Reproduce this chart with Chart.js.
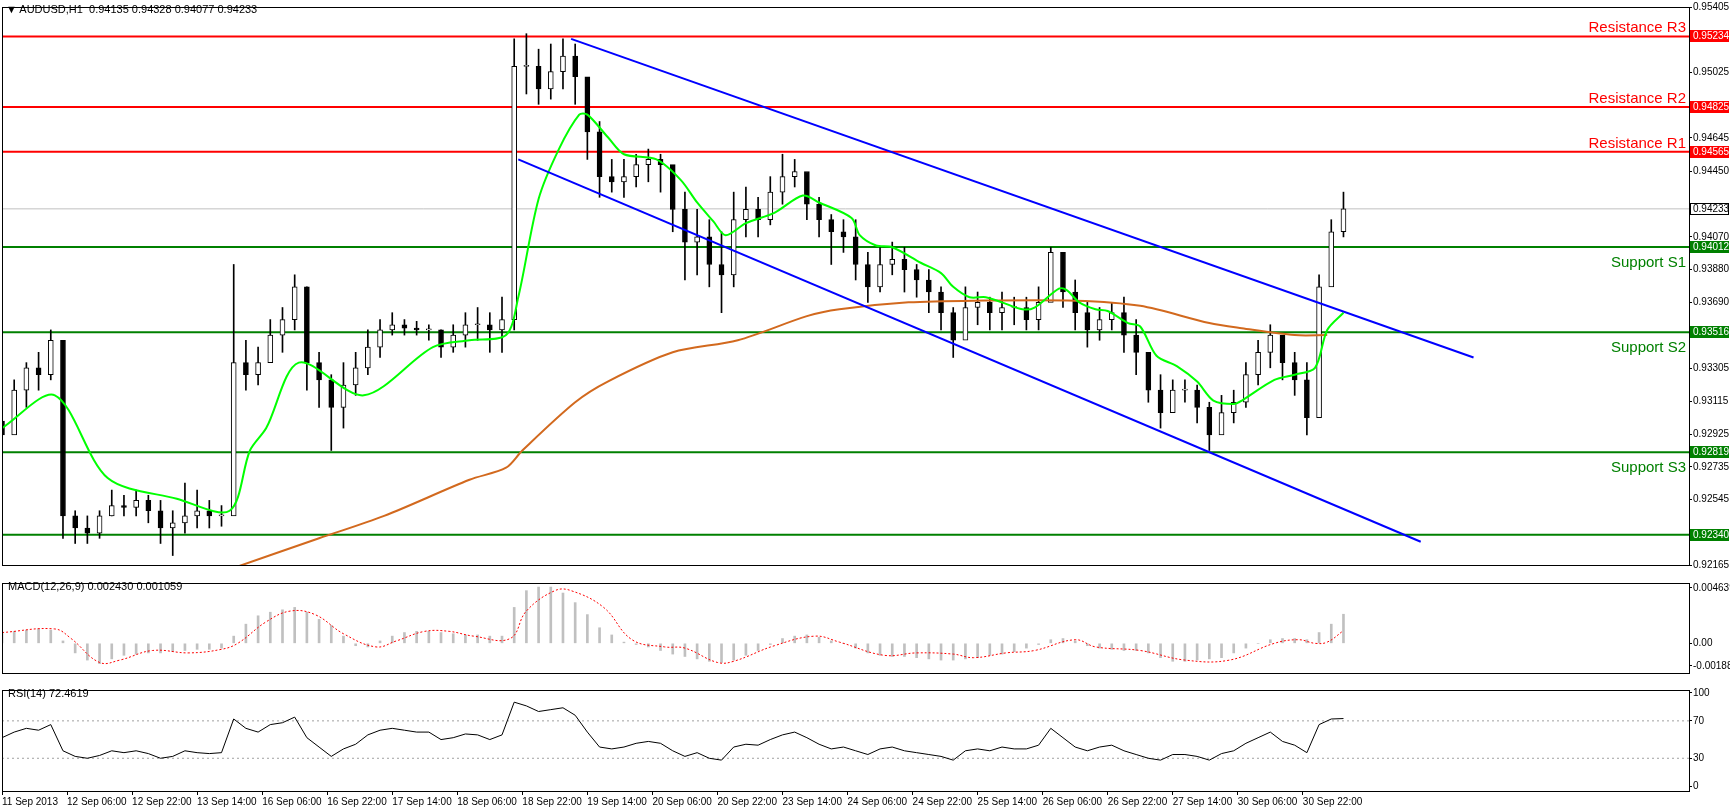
<!DOCTYPE html>
<html>
<head>
<meta charset="utf-8">
<script src="https://cdn.jsdelivr.net/npm/chart.js@4.4.1/dist/chart.umd.min.js"></script>
<style>
  body { margin:0; background:#fff; width:1730px; height:809px; overflow:hidden; font-family:'Liberation Sans', Arial, sans-serif; }
  .pane { position:absolute; left:0; width:1730px; background:#fff; }
  .pane canvas { position:absolute; left:0; top:0; }
  .ttl { position:absolute; left:8px; font-size:11px; color:#000; white-space:nowrap; }
</style>
</head>
<body>
<div class="pane" id="p1" style="top:0;height:573px"><canvas id="main" width="1730" height="573"></canvas>
  <div class="ttl" style="top:3px;left:6px">&#9660; AUDUSD,H1&nbsp; 0.94135 0.94328 0.94077 0.94233</div></div>
<div class="pane" id="p2" style="top:576px;height:104px"><canvas id="macd" width="1730" height="104"></canvas>
  <div class="ttl" style="top:4px">MACD(12,26,9) 0.002430 0.001059</div></div>
<div class="pane" id="p3" style="top:683px;height:126px"><canvas id="rsi" width="1730" height="126"></canvas>
  <div class="ttl" style="top:4px">RSI(14) 72.4619</div></div>
<script>
// hourly chart, one candle per 3 hours, x = hours since 11 Sep 2013 14:00
const xLabels = ['11 Sep 2013','12 Sep 06:00','12 Sep 22:00','13 Sep 14:00','16 Sep 06:00','16 Sep 22:00','17 Sep 14:00',
  '18 Sep 06:00','18 Sep 22:00','19 Sep 14:00','20 Sep 06:00','20 Sep 22:00','23 Sep 14:00','24 Sep 06:00','24 Sep 22:00',
  '25 Sep 14:00','26 Sep 06:00','26 Sep 22:00','27 Sep 14:00','30 Sep 06:00','30 Sep 22:00']

const hi = [.9308,.9324,.9334,.9340,.9353,.9321,.9248,.9245,.9248,.9260,.9257,.9260,.9257,.9254,.9248,.9264,.9260,.9254,.9251,.9391,
  .9347,.9343,.9359,.9366,.9385,.9378,.9340,.9327,.9334,.9340,.9353,.9359,.9363,.9359,.9358,.9356,.9353,.9356,.9363,.9366,
  .9363,.9372,.9522,.9525,.9516,.9519,.9522,.9519,.9497,.9474,.9452,.9452,.9455,.9458,.9455,.9445,.9433,.9423,.9417,.9410,
  .9433,.9436,.9430,.9442,.9455,.9452,.9442,.9430,.9420,.9417,.9417,.9398,.9401,.9404,.9401,.9391,.9388,.9378,.9366,.9378,
  .9375,.9372,.9375,.9372,.9372,.9378,.9401,.9398,.9382,.9369,.9366,.9369,.9372,.9359,.9337,.9327,.9324,.9324,.9321,.9311,
  .9315,.9318,.9334,.9347,.9356,.9343,.9340,.9334,.9385,.9417,.9433]
const lo = [.9276,.9296,.9308,.9318,.9324,.9232,.9229,.9229,.9232,.9245,.9245,.9245,.9241,.9229,.9222,.9235,.9238,.9238,.9239,.9292,
  .9318,.9321,.9334,.9340,.9353,.9318,.9308,.9283,.9296,.9315,.9327,.9337,.9350,.9350,.9350,.9347,.9337,.9340,.9343,.9347,
  .9340,.9340,.9353,.9490,.9484,.9487,.9493,.9484,.9452,.9430,.9433,.9430,.9436,.9439,.9433,.9410,.9382,.9385,.9378,.9363,
  .9378,.9407,.9407,.9414,.9426,.9436,.9417,.9407,.9391,.9398,.9382,.9369,.9375,.9385,.9375,.9372,.9363,.9353,.9337,.9353,
  .9356,.9353,.9353,.9356,.9353,.9353,.9372,.9366,.9353,.9343,.9347,.9353,.9340,.9327,.9311,.9296,.9305,.9311,.9299,.9283,
  .9296,.9299,.9308,.9321,.9331,.9324,.9315,.9292,.9302,.9385,.9407]
const cl = [.9292,.9318,.9331,.9327,.9347,.9245,.9238,.9235,.9245,.9251,.9250,.9254,.9248,.9238,.9241,.9245,.9248,.9245,.9245,.9334,
  .9327,.9334,.9350,.9359,.9378,.9334,.9324,.9308,.9321,.9331,.9343,.9353,.9356,.9354,.9353,.9353,.9343,.9350,.9356,.9356,
  .9353,.9359,.9506,.9506,.9493,.9503,.9512,.9500,.9468,.9442,.9439,.9442,.9449,.9452,.9449,.9423,.9404,.9407,.9391,.9385,
  .9417,.9423,.9417,.9433,.9442,.9445,.9426,.9417,.9410,.9407,.9391,.9378,.9391,.9394,.9388,.9382,.9375,.9363,.9347,.9366,
  .9369,.9363,.9366,.9366,.9359,.9369,.9398,.9375,.9363,.9353,.9359,.9363,.9350,.9340,.9318,.9305,.9318,.9318,.9308,.9292,
  .9305,.9311,.9327,.9340,.9350,.9334,.9324,.9302,.9378,.9410,.94233]

// moving averages: [hour, price]
const maFast = [[0,.9296],[13,.9315],[26,.9267],[43,.9255],[56,.9248],[61,.9283],[65,.9296],[73,.9334],[89,.9315],[106,.9343],
  [115,.9347],[124,.9350],[127,.9372],[132,.9429],[137,.9458],[142,.9478],[144,.9478],[149,.9465],[153,.9455],[161,.9452],
  [167,.9440],[171,.9427],[175,.9416],[178,.9408],[183,.9415],[190,.9421],[197,.9431],[201,.9427],[209,.9418],[211,.9408],
  [215,.9402],[219,.9401],[226,.9392],[231,.9386],[234,.9378],[238,.9372],[242,.9372],[246,.9369],[251,.9365],[254,.9366],
  [260,.9377],[262,.9376],[265,.9369],[269,.9365],[272,.9364],[277,.9357],[280,.9355],[284,.9338],[289,.9332],[294,.9323],
  [298,.9312],[303,.9310],[305,.9312],[313,.9324],[318,.9327],[323,.9331],[326,.9353],[330,.9363]]
const maSlow = [[56,.9214],[78,.9232],[94,.9245],[115,.9266],[124,.9273],[128,.9283],[141,.9311],[149,.9323],[165,.9340],
  [181,.9347],[198,.9361],[206,.9365],[223,.9369],[239,.9370],[264,.9370],[280,.9367],[297,.9357],[305,.9354],[318,.9350],[326,.9350]]

const channelTop = [[140,.9522],[362,.9337]]
const channelBottom = [[127,.9452],[349,.9230]]

const resistLevels = [.95234,.94825,.94565]
const resistNames = ['Resistance R3','Resistance R2','Resistance R1']
const supportLevels = [.94012,.93516,.92819,.92340]
const supportNames = ['Support S1','Support S2','Support S3','']
const lastPrice = .94233
const priceTicks = [.95405,.95025,.94645,.94450,.94070,.93880,.93690,.93305,.93115,.92925,.92735,.92545,.92165]

const macdHist = [.0009,.0010,.0011,.0012,.0011,.0002,-.0008,-.0014,-.0017,-.0013,-.0010,-.0009,-.0008,-.0008,-.0007,-.0006,-.0005,-.0005,-.0004,.0006,
  .0016,.0023,.0026,.0028,.0030,.0026,.0020,.0015,.0006,-.0002,-.0003,.0002,.0006,.0009,.0010,.0010,.0009,.0008,.0007,.0007,
  .0006,.0006,.0030,.0044,.0047,.0047,.0042,.0034,.0024,.0013,.0007,.0001,-.0001,-.0003,-.0006,-.0009,-.0011,-.0013,-.0015,-.0016,
  -.0014,-.0010,-.0006,-.0001,.0004,.0006,.0007,.0005,.0002,0,-.0004,-.0008,-.0010,-.0011,-.0011,-.0012,-.0013,-.0014,-.0014,-.0013,
  -.0012,-.0010,-.0009,-.0007,-.0004,-.0001,.0003,.0004,.0002,-.0002,-.0004,-.0005,-.0006,-.0006,-.0008,-.0012,-.0015,-.0015,-.0014,-.0013,
  -.0012,-.0008,-.0004,0,.0003,.0004,.0004,.0003,.0009,.0016,.00243]
const macdSignal = [[0,.0009],[13,.0012],[17,.0004],[24,-.0016],[29,-.0014],[37,-.0006],[46,-.0008],[54,-.0005],[58,0],[65,.0018],
  [71,.0027],[77,.0024],[84,.0008],[92,-.0003],[97,.0002],[104,.0010],[110,.0010],[116,.0006],[125,.0004],[129,.0027],[136,.0044],
  [140,.0044],[148,.0030],[155,.0003],[163,-.0003],[168,-.0004],[176,-.0016],[180,-.0015],[190,-.0002],[200,.0006],[206,.0001],
  [217,-.0010],[225,-.0008],[234,-.0009],[239,-.0012],[247,-.0008],[254,-.0006],[264,.0003],[269,-.0003],[280,-.0006],[291,-.0014],
  [302,-.0014],[313,0],[319,.0003],[323,0],[326,.0001],[330,.001059]]

const rsi = [52,58,62,60,66,38,32,30,33,38,36,38,35,30,32,38,36,35,36,72,62,58,66,68,74,52,42,32,40,45,55,60,62,60,58,58,50,52,56,55,
  50,55,90,86,80,82,84,76,58,42,40,42,46,48,46,38,32,36,30,28,42,45,44,50,55,58,52,45,40,42,38,34,40,42,38,36,34,32,28,38,
  40,38,42,40,40,44,62,52,42,38,42,44,38,34,30,28,34,34,32,28,35,38,46,52,58,48,44,36,66,72,72.4619]

const X_MAX = 415
const AXIS_W = 41
const FONT = { family:'Liberation Sans', size:10 }
const pts = a => a.map(p => ({ x:p[0], y:p[1] }))
const hour = i => i * 3

const op = cl.map((c, i) => i === 0 ? .9300 : cl[i - 1])

function xScale(show) {
  return {
    type:'linear', min:0, max:X_MAX, offset:false,
    grid:{ display:show, drawOnChartArea:false, tickLength:4, color:'#000' },
    border:{ display:true, color:'#000' },
    afterBuildTicks: s => { s.ticks = xLabels.map((l, i) => ({ value:i * 16 })) },
    ticks:{ display:show, autoSkip:false, maxRotation:0, align:'start', padding:1, color:'#000', font:FONT,
      callback:(v, i) => xLabels[i] }
  }
}
function yScale(min, max, ticks, fmt) {
  return {
    position:'right', min, max,
    grid:{ drawOnChartArea:false, tickLength:3, color:'#000' },
    border:{ display:true, color:'#000' },
    afterBuildTicks: s => { s.ticks = ticks.map(v => ({ value:v })) },
    afterFit: s => { s.width = AXIS_W },
    ticks:{ autoSkip:false, color:'#000', font:FONT, padding:1, callback:fmt }
  }
}
const base = {
  responsive:false, animation:false, devicePixelRatio:1,
  plugins:{ legend:{ display:false }, tooltip:{ enabled:false } }
}
const frame = {
  id:'frame',
  afterDraw(c) {
    const a = c.chartArea, g = c.ctx
    g.save(); g.strokeStyle = '#000'; g.lineWidth = 1
    g.strokeRect(a.left + 0.5, a.top + 0.5, a.right - a.left, a.bottom - a.top)
    g.restore()
  }
}

// level boxes + names on main pane
const levelTags = {
  id:'levelTags',
  afterDraw(c) {
    const g = c.ctx, y = c.scales.y, a = c.chartArea
    g.save()
    const tag = (v, bg, fg) => {
      const py = Math.round(y.getPixelForValue(v))
      g.fillStyle = bg; g.fillRect(a.right + 1, py - 6, AXIS_W - 2, 12)
      if (bg === '#fff') { g.strokeStyle = '#000'; g.strokeRect(a.right + 1.5, py - 5.5, AXIS_W - 3, 11) }
      g.fillStyle = fg; g.textBaseline = 'middle'; g.textAlign = 'left'
      g.fillText(v.toFixed(5), a.right + 4, py)
    }
    g.font = '15px Liberation Sans'; g.textAlign = 'right'; g.textBaseline = 'alphabetic'
    resistLevels.forEach((v, i) => { g.fillStyle = '#ff0000'; g.fillText(resistNames[i], a.right - 3, y.getPixelForValue(v) - 4) })
    supportLevels.forEach((v, i) => { g.fillStyle = '#008000'; g.fillText(supportNames[i], a.right - 3, y.getPixelForValue(v) + 20) })
    g.font = '10px Liberation Sans'
    resistLevels.forEach(v => tag(v, '#ff0000', '#fff'))
    supportLevels.forEach(v => tag(v, '#008000', '#fff'))
    tag(lastPrice, '#fff', '#000')
    g.restore()
  }
}

const hline = (v, color, w, dash) => ({ type:'line', data:[{ x:0, y:v }, { x:X_MAX, y:v }], borderColor:color, borderWidth:w,
  borderDash:dash || [], pointRadius:0, order:5 })

new Chart(document.getElementById('main'), {
  type:'bar',
  data:{ datasets:[
    hline(lastPrice, '#c0c0c0', 1),
    ...resistLevels.map(v => hline(v, '#ff0000', 2)),
    ...supportLevels.map(v => hline(v, '#008000', 2)),
    { type:'bar', data:hi.map((h, i) => ({ x:hour(i), y:[lo[i], h] })), backgroundColor:'#000', barThickness:1, grouped:false, order:4 },
    { type:'bar', data:cl.map((c, i) => ({ x:hour(i), y:[op[i], c] })), grouped:false, order:3, barThickness:5,
      backgroundColor:cl.map((c, i) => c >= op[i] ? '#fff' : '#000'), borderColor:'#000', borderWidth:1, borderSkipped:false, minBarLength:1 },
    { type:'line', data:pts(maSlow), borderColor:'#d2691e', borderWidth:2, pointRadius:0, tension:0.3, order:2 },
    { type:'line', data:pts(maFast), borderColor:'#00ff00', borderWidth:2, pointRadius:0, tension:0.3, order:1 },
    { type:'line', data:pts(channelTop), borderColor:'#0000ff', borderWidth:2, pointRadius:0, order:0 },
    { type:'line', data:pts(channelBottom), borderColor:'#0000ff', borderWidth:2, pointRadius:0, order:0 }
  ]},
  options:{ ...base, layout:{ padding:{ left:2, top:7, bottom:4, right:0 } },
    scales:{ x:xScale(false), y:yScale(.92165, .95405, priceTicks, v => v.toFixed(5)) } },
  plugins:[frame, levelTags]
})

new Chart(document.getElementById('macd'), {
  type:'bar',
  data:{ datasets:[
    { type:'bar', data:macdHist.map((v, i) => ({ x:hour(i), y:v })), backgroundColor:'#c0c0c0', barThickness:2, grouped:false, order:2 },
    { type:'line', data:pts(macdSignal), borderColor:'#ff0000', borderWidth:1, borderDash:[2, 2], pointRadius:0, tension:0.4, order:1 }
  ]},
  options:{ ...base, layout:{ padding:{ left:2, top:2, bottom:2, right:0 } },
    scales:{ x:xScale(false), y:yScale(-.00248, .00504, [.004639, 0, -.001882], v => v === 0 ? '0.00' : v.toFixed(6)) } },
  plugins:[frame]
})

new Chart(document.getElementById('rsi'), {
  type:'line',
  data:{ datasets:[
    hline(70, '#a0a0a0', 1, [2, 3]), hline(30, '#a0a0a0', 1, [2, 3]),
    { data:rsi.map((v, i) => ({ x:hour(i), y:v })), borderColor:'#000', borderWidth:1, pointRadius:0, order:0 }
  ]},
  options:{ ...base, layout:{ padding:{ left:2, top:3, bottom:0, right:0 } },
    scales:{ x:xScale(true), y:yScale(-5, 103, [100, 70, 30, 0], v => v) } },
  plugins:[frame]
})
</script>
</body>
</html>
